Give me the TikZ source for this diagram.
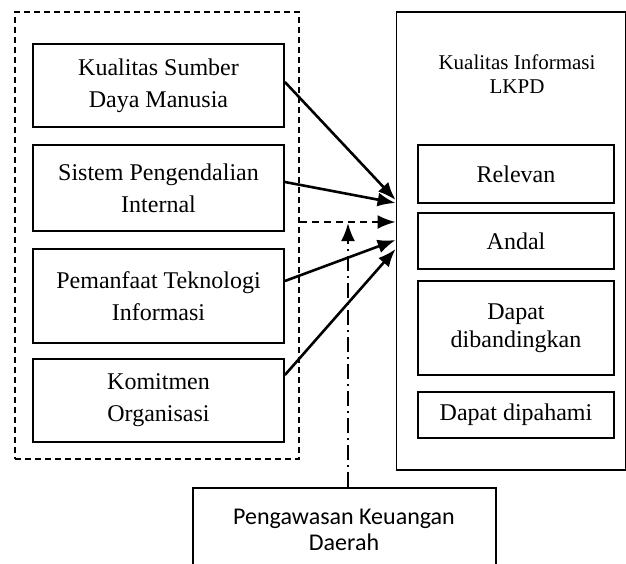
\documentclass[tikz,border=0pt]{standalone}
\usepackage{fontspec}
\setmainfont{Liberation Serif}
\newfontfamily\calib{Carlito}
\usetikzlibrary{arrows.meta}
\begin{document}
\begin{tikzpicture}[x=0.5pt,y=-0.5pt,
  box/.style={draw,line width=0.9pt,rectangle,inner sep=0pt,align=center,font=\fontsize{12}{16}\selectfont},
  rbox/.style={box,font=\fontsize{12}{14}\selectfont},
  conn/.style={line width=1.3pt,-{Latex[length=9pt,width=7pt]}},
  dashconn/.style={line width=1.2pt,dash pattern=on 3.5pt off 2.5pt,-{Latex[length=9pt,width=7pt]}},
  dotconn/.style={line width=1.2pt,dash pattern=on 7.5pt off 2.5pt on 1pt off 2.5pt,-{Latex[length=9pt,width=7pt]}}]
\useasboundingbox (0,0) rectangle (626,563);
% dashed group
\node[draw,line width=0.8pt,dash pattern=on 3pt off 2pt,minimum width=284pt/2,minimum height=447pt/2,inner sep=0pt] (grp) at (157,235.5) {};
% left boxes
\node[box,minimum width=251pt/2,minimum height=83pt/2] (k1) at (158.5,85.5) {Kualitas Sumber\\Daya Manusia};
\node[box,minimum width=251pt/2,minimum height=86pt/2] (k2) at (158.5,188) {Sistem Pengendalian\\Internal};
\node[box,minimum width=251pt/2,minimum height=94pt/2] (k3) at (158.5,296) {Pemanfaat Teknologi\\Informasi};
\node[box,minimum width=251pt/2,minimum height=83pt/2] (k4) at (158.5,400.5) {Komitmen\\Organisasi};
% right big box
\node[box,minimum width=229pt/2,minimum height=458pt/2] (kil) at (511,241) {};
\node[align=center,font=\fontsize{10.5}{12}\selectfont,inner sep=0pt] (kilt) at (517,74) {Kualitas Informasi\\LKPD};
\node[rbox,minimum width=196pt/2,minimum height=58pt/2] (r1) at (516,174) {Relevan};
\node[rbox,minimum width=196pt/2,minimum height=56pt/2] (r2) at (516,241) {Andal};
\node[rbox,minimum width=196pt/2,minimum height=94pt/2] (r3) at (516,328) {Dapat\\dibandingkan};
\node[rbox,minimum width=196pt/2,minimum height=46pt/2] (r4) at (516,415) {Dapat dipahami};
% bottom box
\node[draw,line width=0.9pt,inner sep=0pt,minimum width=303pt/2,minimum height=100pt/2] (pk) at (344.5,538) {};
\node[align=center,font=\calib\fontsize{12}{13}\selectfont,inner sep=0pt] (pkt) at (344,530) {Pengawasan Keuangan\\Daerah};
% coordinates
\coordinate (e1) at (kil.west |- 0,200);
\coordinate (e2) at (kil.west |- 0,203);
\coordinate (e3) at (kil.west |- 0,222);
\coordinate (e4) at (kil.west |- 0,240);
\coordinate (e5) at (kil.west |- 0,249);
\coordinate (s1) at (k1.east |- 0,82);
\coordinate (s2) at (k2.east |- 0,182);
\coordinate (s3) at (k3.east |- 0,281);
\coordinate (s4) at (k4.east |- 0,375);
\coordinate (gd) at (grp.east |- 0,222);
\coordinate (vt) at (348,223);
\coordinate (vb) at (348,488);
% connectors
\draw[conn] (s1) -- (e1);
\draw[conn] (s2) -- (e2);
\draw[conn] (s3) -- (e4);
\draw[conn] (s4) -- (e5);
\draw[dashconn] (gd) -- (e3);
\draw[dotconn] (pk.north -| vb) -- (vt);
\end{tikzpicture}
\end{document}
